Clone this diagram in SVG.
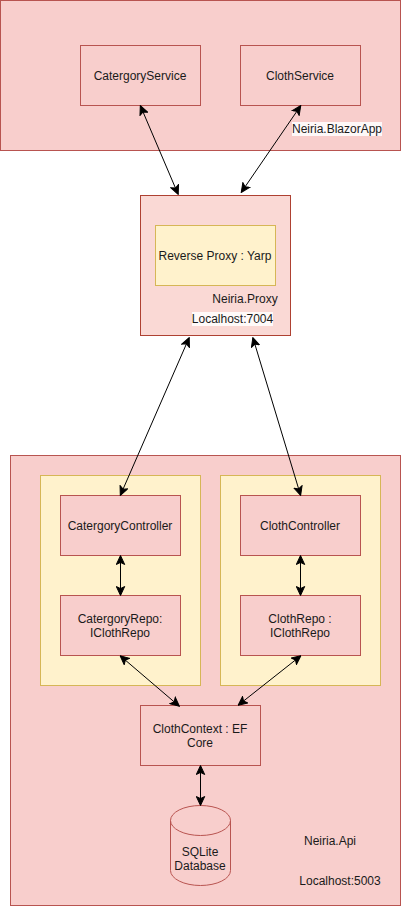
<svg xmlns="http://www.w3.org/2000/svg" width="401" height="906" viewBox="0 0 401 906">
<style>
.r{fill:#f8cecc;stroke:#b85450;stroke-width:1}
.y{fill:#fff2cc;stroke:#d6b656;stroke-width:1}
.p{fill:#fad9d5;stroke:#ae4132;stroke-width:1}
text{font-family:"Liberation Sans",Arial,sans-serif;font-size:12px;fill:#1a1a1a;text-anchor:middle}
.l{fill:#ffffff;fill-opacity:.85;stroke:none}
.c{fill:none;stroke:#000;stroke-width:1;marker-start:url(#a);marker-end:url(#a)}
</style>
<defs>
<marker id="a" viewBox="0 0 10 10" refX="9" refY="5" markerWidth="10" markerHeight="10" orient="auto-start-reverse" markerUnits="userSpaceOnUse">
<path d="M0.5 0.8L9.5 5L0.5 9.200L2.600 5Z" fill="#000" stroke="#000" stroke-width="1"/>
</marker>
</defs>
<g id="blazorapp">
<rect class="r" x="0.500" y="0.500" width="400" height="150"/>
<rect class="l" x="292" y="122" width="90" height="14"/>
<text x="337" y="133">Neiria.BlazorApp</text>
</g>
<g id="categoryservice"><rect class="r" x="80.500" y="45.500" width="120" height="60"/><text x="140" y="80">CatergoryService</text></g>
<g id="clothservice"><rect class="r" x="240.500" y="45.500" width="120" height="60"/><text x="300" y="80">ClothService</text></g>
<g id="proxy">
<rect class="p" x="140.500" y="195.500" width="150" height="140"/>
<text x="245" y="303">Neiria.Proxy</text>
<rect class="l" x="192" y="312" width="81" height="14"/>
<text x="232.500" y="323">Localhost:7004</text>
</g>
<g id="yarp"><rect class="y" x="155.500" y="225.500" width="120" height="60"/><text x="215" y="260">Reverse Proxy : Yarp</text></g>
<g id="api">
<rect class="r" x="10.500" y="455.500" width="390" height="450"/>
<text x="330" y="845">Neiria.Api</text>
<text x="340" y="885">Localhost:5003</text>
</g>
<g id="category-group"><rect class="y" x="40.500" y="475.500" width="160" height="210"/></g>
<g id="cloth-group"><rect class="y" x="220.500" y="475.500" width="160" height="210"/></g>
<g id="categorycontroller"><rect class="r" x="60.500" y="495.500" width="120" height="60"/><text x="120" y="530">CatergoryController</text></g>
<g id="clothcontroller"><rect class="r" x="240.500" y="495.500" width="120" height="60"/><text x="300" y="530">ClothController</text></g>
<g id="categoryrepo"><rect class="r" x="60.500" y="595.500" width="120" height="60"/><text x="120" y="623">CatergoryRepo:</text><text x="120" y="637">IClothRepo</text></g>
<g id="clothrepo"><rect class="r" x="240.500" y="595.500" width="120" height="60"/><text x="300" y="623">ClothRepo :</text><text x="300" y="637">IClothRepo</text></g>
<g id="clothcontext"><rect class="r" x="140.500" y="705.500" width="120" height="60"/><text x="200" y="733">ClothContext : EF</text><text x="200" y="747">Core</text></g>
<g id="sqlite">
<path class="r" d="M170.500 820.500A30 15 0 0 1 230.500 820.500V870.500A30 15 0 0 1 170.500 870.500Z"/>
<path d="M170.500 820.500A30 15 0 0 0 230.500 820.500" fill="none" stroke="#b85450"/>
<text x="200" y="856">SQLite</text><text x="200" y="870">Database</text>
</g>
<g id="connectors">
<path class="c" d="M140.500 106L178 194"/>
<path class="c" d="M300.500 106L241.500 192"/>
<path class="c" d="M189 338L120.500 495"/>
<path class="c" d="M253 338L300.500 495"/>
<path class="c" d="M120.500 556V595"/>
<path class="c" d="M300.500 556V595"/>
<path class="c" d="M120.500 656L179 706"/>
<path class="c" d="M300.500 656L238.500 705"/>
<path class="c" d="M200.500 766V805"/>
</g>
</svg>
